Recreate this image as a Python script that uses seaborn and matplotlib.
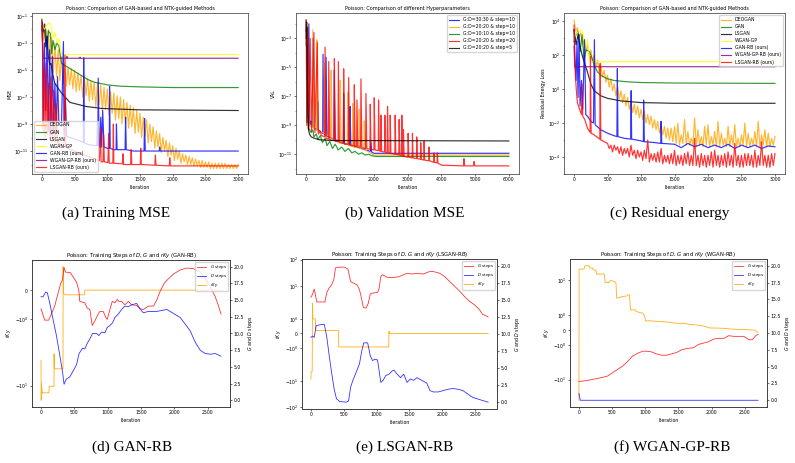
import numpy as np
import matplotlib
matplotlib.use('Agg')
from matplotlib import pyplot as plt
from matplotlib.ticker import FixedLocator, MultipleLocator, NullFormatter, FormatStrFormatter
import seaborn as sns

# ---------------- data ----------------
# top row: values stored as log10 of the loss
grid_3000 = np.arange(0, 3001, 25)

# (a) training MSE
deogan_a = [-1.2, -2.8, -1.6, -3.9, -2.0, -4.6, -2.6, -5.2, -3.0, -5.5,
            -3.5, -5.8, -4.0, -6.0, -4.5, -6.2, -4.8, -6.1, -4.9, -6.4,
            -5.0, -6.6, -5.2, -6.5, -5.4, -7.0, -5.5, -6.9, -5.6, -7.3,
            -5.8, -7.2, -5.9, -7.7, -6.0, -7.6, -6.1, -8.0, -6.3, -7.9,
            -6.4, -8.3, -6.6, -8.2, -6.7, -8.7, -6.9, -8.6, -7.0, -9.0,
            -7.2, -8.9, -7.4, -9.3, -7.6, -9.2, -7.8, -9.7, -8.0, -9.6,
            -8.2, -10.0, -8.5, -9.9, -8.7, -10.4, -9.0, -10.3, -9.2, -10.8,
            -9.5, -10.7, -9.7, -11.1, -10.0, -11.0, -10.2, -11.4, -10.4, -11.3,
            -10.6, -11.7, -10.8, -11.6, -11.0, -11.9, -11.2, -11.8, -11.3, -12.0,
            -11.4, -12.0, -11.5, -12.1, -11.6, -12.1, -11.7, -12.2, -11.7, -12.2,
            -11.8, -12.2, -11.8, -12.3, -11.9, -12.3, -11.9, -12.3, -11.9, -12.3,
            -11.9, -12.3, -11.9, -12.3, -12.0, -12.3, -12.0, -12.3, -12.0, -12.3,
            -12.0]
gan_a_it = [0, 30, 60, 80, 100, 130, 150, 170, 200, 230, 260, 300, 330, 400, 500, 600,
            700, 800, 900, 1000, 1200, 1500, 2000, 3000]
gan_a = [-2.0, -1.9, -2.0, -3.5, -2.1, -2.3, -3.8, -2.8, -3.5, -3.0, -3.2, -4.5, -4.6, -4.8,
         -5.1, -5.4, -5.7, -5.9, -6.0, -6.1, -6.2, -6.25, -6.3, -6.3]
lsgan_a_it = [0, 20, 40, 60, 80, 100, 120, 140, 160, 200, 300, 430, 675, 920, 1500, 3000]
lsgan_a = [-1.3, -2.2, -1.6, -3.3, -2.5, -4.0, -4.6, -4.5, -5.2, -6.0, -6.7, -7.4, -7.7,
           -7.85, -7.95, -8.0]
wgan_a_it = [0, 40, 70, 110, 140, 170, 200, 230, 260, 300, 330, 3000]
wgan_a = [-1.6, -2.0, -1.7, -1.5, -1.7, -2.6, -2.2, -3.0, -2.7, -3.8, -3.85, -3.85]
ganrb_a_it = [0, 10, 20, 40, 60, 80, 100, 120, 140, 160, 180, 200, 220, 240, 260, 300, 330,
              340, 360, 380, 420, 500, 600, 635, 640, 650, 700, 800, 840, 850, 856, 862, 875,
              890, 900, 915, 930, 950, 1000, 1030, 1035, 1045, 1100, 1135, 1140, 1150, 1272,
              1280, 1290, 1400, 1562, 1570, 1580, 1795, 1800, 1810, 3000]
ganrb_a = [-1.8, -1.5, -9.0, -3.0, -8.0, -2.5, -9.5, -3.5, -9.8, -4.0, -9.5, -6.0, -9.7, -5.5,
           -9.0, -9.2, -2.9, -9.8, -7.0, -9.9, -10.0, -10.1, -10.3, -10.35, -4.1, -10.4, -10.5,
           -10.6, -10.6, -9.0, -10.6, -5.6, -10.7, -10.7, -8.5, -10.7, -8.0, -10.7, -10.8,
           -10.8, -6.2, -10.8, -10.9, -10.9, -9.0, -10.9, -10.9, -8.5, -10.9, -11.0, -11.0,
           -8.6, -11.0, -11.0, -10.7, -11.0, -11.0]
wganrb_a_it = [0, 20, 380, 385, 390, 580, 585, 590, 3000]
wganrb_a = [-1.8, -4.13, -4.13, -4.0, -4.13, -4.13, -4.05, -4.13, -4.13]
lsganrb_a_it = [0, 10, 20, 35, 50, 65, 80, 100, 120, 140, 160, 180, 200, 220, 240, 260, 280,
                300, 340, 355, 365, 400, 500, 600, 700, 800, 880, 897, 905, 935, 945, 955,
                1010, 1020, 1030, 1085, 1093, 1100, 1232, 1240, 1250, 1357, 1365, 1375, 1504,
                1512, 1520, 1727, 1735, 1745, 1947, 1955, 1965, 3000]
lsganrb_a = [-1.5, -3.0, -9.5, -5.0, -10.0, -4.5, -9.8, -6.0, -10.2, -5.5, -10.3, -6.5, -10.4,
             -7.5, -10.5, -10.2, -10.6, -10.5, -10.7, -3.9, -10.7, -10.8, -11.0, -11.2, -11.4,
             -11.6, -11.7, -9.3, -11.8, -11.8, -9.8, -11.8, -11.85, -9.7, -11.9, -11.9, -9.0,
             -11.9, -11.95, -11.2, -12.0, -12.0, -10.9, -12.0, -12.0, -10.8, -12.0, -12.05,
             -11.3, -12.05, -12.1, -11.5, -12.1, -12.1]

# (b) validation MSE, hyper-parameters
b_blue_it = [0, 20, 40, 80, 110, 150, 190, 200, 230, 330, 340, 360, 450, 490, 500, 530, 580,
             590, 620, 820, 830, 860, 1000, 1100, 1110, 1135, 1290, 1300, 1325, 1500, 1700,
             1900, 1920, 1940, 2000, 6000]
b_blue = [-2.5, -1.9, -8.5, -2.0, -9.0, -8.7, -9.1, -3.0, -9.2, -9.3, -7.4, -9.3, -9.5, -9.55,
          -4.1, -9.6, -9.7, -4.3, -9.75, -9.95, -5.2, -10.0, -10.1, -10.2, -6.8, -10.25,
          -10.35, -7.7, -10.4, -10.5, -10.65, -10.8, -10.2, -10.85, -10.93, -10.93]
b_orange_it = [0, 30, 60, 100, 190, 200, 230, 310, 320, 345, 530, 540, 565, 730, 740, 765,
               1000, 1010, 1035, 1220, 1230, 1255, 1370, 1380, 1400, 1560, 1570, 1595, 1710,
               1720, 1745, 1900, 2000, 6000]
b_orange = [-3.0, -2.0, -8.5, -9.0, -9.15, -2.4, -9.2, -9.35, -3.1, -9.4, -9.55, -4.7, -9.6,
            -9.85, -5.2, -9.9, -10.15, -5.9, -10.2, -10.35, -6.7, -10.4, -10.45, -7.5, -10.5,
            -10.55, -7.9, -10.6, -10.65, -8.7, -10.7, -10.9, -11.05, -11.05]
b_green_it = [0, 10, 25, 40, 60, 100, 150, 200, 230, 300, 350, 420, 480, 560, 620, 700, 780,
              860, 950, 1050, 1150, 1250, 1350, 1450, 1550, 1650, 1750, 1850, 1950, 2050, 6000]
b_green = [-3.5, -2.0, -8.8, -3.5, -9.2, -9.3, -9.5, -9.3, -9.8, -9.6, -10.0, -9.7, -10.2,
           -9.9, -10.4, -10.1, -10.6, -10.3, -10.7, -10.5, -10.8, -10.6, -10.9, -10.8, -11.0,
           -10.9, -11.05, -11.0, -11.1, -11.15, -11.15]
b_red_it = [0, 20, 50, 80, 120, 160, 230, 260, 330, 360,
            420, 450, 550, 560, 590, 660, 669, 700, 826, 836,
            860, 944, 954, 980, 1101, 1111, 1135, 1249, 1259, 1285,
            1416, 1426, 1450, 1494, 1504, 1530, 1612, 1622, 1650, 1760,
            1770, 1795, 1888, 1898, 1920, 2006, 2016, 2040, 2134, 2144,
            2165, 2202, 2212, 2235, 2320, 2330, 2350, 2399, 2409, 2430,
            2478, 2488, 2510, 2625, 2635, 2655, 2743, 2753, 2775, 2822,
            2832, 2855, 2871, 2881, 2900, 3009, 3019, 3040, 3137, 3147,
            3165, 3264, 3274, 3295, 3382, 3392, 3410, 3481, 3491, 3510,
            3628, 3638, 3655, 3776, 3786, 3800, 3874, 3884, 3900, 4000,
            4660, 4670, 4690, 4960, 4970, 4990, 6000]
b_red = [-1.7, -9.0, -2.3, -9.3, -3.0, -9.4, -2.6, -9.5, -3.3, -9.6,
         -9.4, -9.7, -9.8, -3.6, -9.9, -9.95, -4.6, -10.0, -10.05, -4.4,
         -10.1, -10.15, -4.6, -10.2, -10.25, -5.1, -10.3, -10.3, -5.7, -10.35,
         -10.4, -6.2, -10.45, -10.45, -7.25, -10.5, -10.5, -5.8, -10.55, -10.6,
         -6.8, -10.6, -10.65, -7.55, -10.65, -10.7, -7.1, -10.7, -10.75, -7.25,
         -10.75, -10.8, -8.3, -10.8, -10.85, -8.3, -10.85, -10.9, -7.7, -10.9,
         -10.95, -8.3, -10.95, -11.0, -8.3, -11.0, -11.05, -8.6, -11.05, -11.1,
         -8.3, -11.1, -11.15, -9.3, -11.15, -11.2, -9.55, -11.2, -11.25, -9.55,
         -11.25, -11.3, -9.8, -11.3, -11.35, -10.2, -11.35, -11.4, -10.1, -11.4,
         -11.45, -10.5, -11.45, -11.55, -10.9, -11.55, -11.6, -10.9, -11.6, -11.75,
         -11.8, -11.3, -11.8, -11.8, -11.5, -11.8, -11.8]
b_black_it = [0, 10, 20, 35, 50, 70, 100, 150, 250, 400, 800, 6000]
b_black = [-1.8, -3.0, -2.2, -5.5, -7.5, -9.3, -9.6, -9.8, -9.9, -10.0, -10.05, -10.08]

# (c) residual energy loss
deogan_c = [4.05, 3.4, 3.6, 3.0, 3.3, 2.6, 2.9, 2.2, 2.6, 1.9,
            2.3, 1.6, 2.0, 1.3, 1.7, 1.0, 1.4, 0.7, 1.1, 0.4,
            0.8, 0.1, 0.6, -0.1, 0.3, -0.4, 0.1, -0.6, -0.1, -0.8,
            -0.3, -1.0, -0.5, -1.2, -0.7, -1.4, -0.9, -1.5, -1.0, -1.7,
            -1.2, -1.8, -1.3, -2.0, -1.5, -2.1, -1.6, -2.3, -1.8, -2.4,
            -1.9, -2.6, -2.1, -2.7, -2.2, -2.9, -2.3, -3.0, -2.3, -3.1,
            -2.2, -3.2, -2.0, -3.3, -2.7, -3.2, -1.8, -3.3, -2.5, -3.3,
            -2.9, -3.3, -1.7, -3.4, -2.4, -3.3, -2.8, -3.4, -2.2, -3.3,
            -2.1, -3.4, -2.8, -3.3, -2.5, -3.4, -1.9, -3.4, -2.6, -3.3,
            -2.9, -3.4, -2.2, -3.4, -2.7, -3.3, -2.1, -3.4, -2.9, -3.4,
            -2.7, -3.3, -2.0, -3.4, -2.6, -3.4, -2.9, -3.3, -2.5, -3.4,
            -1.9, -3.4, -2.7, -3.3, -2.4, -3.4, -2.6, -3.4, -2.9, -3.3,
            -2.8]
gan_c_it = [0, 30, 60, 90, 120, 150, 180, 230, 260, 300, 350, 400, 500, 600, 800, 1000, 1500, 3000]
gan_c = [2.8, 3.2, 3.4, 2.2, 3.2, 1.7, 2.3, 2.2, 1.9, 1.4, 1.0, 0.8, 0.6, 0.5, 0.42, 0.38, 0.35, 0.33]
lsgan_c_it = [0, 30, 60, 90, 120, 150, 200, 250, 300, 400, 500, 700, 1000, 1500, 3000]
lsgan_c = [3.5, 2.6, 3.2, 2.5, 2.0, 1.6, 1.0, 0.3, -0.1, -0.4, -0.55, -0.7, -0.8, -0.84, -0.84]
wgan_c_it = [0, 40, 80, 110, 140, 170, 200, 230, 260, 3000]
wgan_c = [3.0, 3.3, 3.4, 3.45, 3.2, 2.4, 2.9, 1.8, 1.6, 1.6]
ganrb_c_it = [0, 15, 30, 45, 60, 75, 90, 110, 130, 157, 175, 200, 250, 290, 304, 315, 400, 500,
              600, 640, 647, 655, 750, 845, 853, 860, 1000, 1035, 1039, 1050, 1200, 1295, 1299,
              1310, 1500, 1600, 1700, 1800, 1900, 2000, 2100, 2200, 2300, 2400, 2500, 2600,
              2700, 2800, 2900, 3000]
ganrb_c = [3.5, 1.5, 0.5, 2.8, -0.5, 3.2, -1.0, 0.5, -1.2, 2.9, -1.5, -1.6, -1.9, -2.0, 2.9,
           -2.1, -2.4, -2.6, -2.75, -2.8, 1.2, -2.8, -2.9, -2.95, -0.1, -2.95, -3.05, -3.1,
           -0.65, -3.1, -3.15, -3.2, -1.9, -3.2, -3.25, -3.45, -3.2, -3.4, -3.25, -3.45, -3.3,
           -3.45, -3.25, -3.5, -3.3, -3.45, -3.3, -3.5, -3.35, -3.4]
wganrb_c_it = [0, 10, 3000]
wganrb_c = [2.5, 1.31, 1.31]
lsganrb_c_it = [0, 10, 20, 34, 50, 83, 110, 120, 130, 160, 200, 240, 245, 255, 300, 385, 390,
                400, 450] + list(range(500, 3001, 25))
lsganrb_c = [3.76, 2.0, 0.8, -0.06, -0.8, -1.2, -1.5, 0.3, -1.6, -1.8, -2.3, -2.55, 1.9, -2.6,
             -2.7, -2.95, 1.5, -3.0, -3.1,
             -3.2, -3.5, -3.3, -3.7, -3.3, -3.6, -3.4, -3.8, -3.4, -3.9,
             -3.5, -3.8, -3.5, -4.0, -3.3, -3.9, -3.6, -4.1, -3.6, -4.0,
             -3.7, -4.2, -3.6, -4.1, -3.0, -4.3, -3.8, -4.2, -3.8, -4.3,
             -3.7, -4.3, -3.5, -4.4, -3.9, -4.3, -3.9, -4.4, -3.8, -4.4,
             -3.6, -4.5, -3.9, -4.4, -3.9, -4.5, -3.8, -4.4, -3.7, -4.5,
             -3.9, -4.5, -2.9, -4.5, -3.9, -4.6, -3.8, -4.5, -3.9, -4.6,
             -3.9, -4.5, -3.7, -4.6, -3.6, -4.5, -3.9, -4.6, -3.9, -4.5,
             -3.8, -4.6, -3.7, -4.5, -3.9, -4.6, -3.2, -4.5, -3.9, -4.6,
             -3.9, -4.6, -3.8, -4.5, -3.8, -4.5, -3.9, -4.6, -3.6, -4.6,
             -3.9, -4.5, -3.1, -4.5, -3.9, -4.6, -3.9, -4.6, -3.8, -4.5,
             -3.8]

# bottom row: steps of G / D (right axis) and rKy (left, symlog)
d_g_it = [0, 55, 115, 155, 205, 255, 296, 321, 346, 366, 441, 532, 567, 582, 657, 692, 733,
          768, 808, 858, 883, 933, 973, 993, 1034, 1069, 1109, 1144, 1169, 1209, 1259, 1310,
          1360, 1435, 1485, 1535, 1610, 1686, 1736, 1786, 1847, 1912, 1987, 2087, 2188, 2288,
          2388, 2464, 2539, 2614, 2660, 2700]
d_g = [13.7, 12.0, 12.0, 12.9, 14.1, 16.0, 17.5, 18.0, 19.9, 19.2, 19.1, 17.7, 16.5, 14.8,
       14.6, 13.8, 13.6, 11.2, 11.9, 12.9, 13.3, 13.3, 12.4, 12.1, 13.6, 14.8, 14.6, 15.1,
       14.8, 14.8, 14.3, 14.8, 14.3, 14.2, 13.7, 13.6, 14.1, 14.1, 15.0, 16.3, 17.5, 18.2,
       18.9, 19.5, 19.8, 19.7, 19.2, 18.2, 17.0, 15.5, 14.2, 12.9]
d_d_it = [0, 30, 70, 95, 130, 181, 231, 281, 321, 346, 381, 432, 482, 532, 572, 622, 657, 692,
          733, 773, 833, 868, 908, 958, 993, 1034, 1074, 1109, 1159, 1209, 1259, 1310, 1360,
          1435, 1485, 1535, 1610, 1736, 1887, 1987, 2087, 2163, 2238, 2313, 2388, 2464, 2539,
          2614, 2700]
d_d = [15.5, 15.5, 16.2, 16.1, 14.6, 12.1, 9.7, 6.8, 4.4, 2.4, 3.2, 3.5, 4.4, 5.3, 7.0, 7.8,
       7.7, 8.5, 9.2, 10.0, 10.0, 9.7, 10.2, 10.1, 10.9, 11.2, 11.6, 12.4, 12.9, 13.6, 14.1,
       14.0, 14.3, 14.5, 13.7, 13.1, 13.3, 13.3, 13.6, 13.0, 12.4, 11.4, 10.4, 8.7, 7.5, 7.0,
       6.9, 7.0, 6.6]
d_rky_it = [0, 3, 8, 15, 20, 25, 120, 121, 195, 196, 200, 330, 332, 340, 365, 655, 657, 2700]
d_rky = [-3.3, -19, -9.0, -12, -14, -13.7, -13.7, -10.3, -10.3, -2.5, -4.8, -4.8, 0.8, -0.12,
         -0.16, -0.16, 0.0, 0.0]

e_g_it = [0, 25, 50, 65, 90, 215, 240, 275, 315, 350, 375, 415, 515, 565, 605, 640, 705, 740,
          765, 800, 840, 875, 905, 940, 1015, 1040, 1065, 1090, 1165, 1265, 1340, 1415, 1465,
          1540, 1615, 1715, 1790, 1840, 1890, 1965, 2040, 2115, 2190, 2265, 2340, 2415, 2490,
          2565, 2615, 2700]
e_g = [15.4, 15.8, 16.6, 16.0, 14.7, 14.7, 16.0, 16.7, 17.2, 18.0, 19.7, 19.8, 19.8, 19.5,
       17.7, 17.5, 17.2, 16.5, 15.5, 13.9, 13.8, 14.5, 15.9, 16.0, 16.1, 16.7, 18.4, 18.7,
       18.3, 18.3, 18.4, 18.7, 18.9, 18.8, 18.9, 18.8, 19.1, 19.2, 19.1, 18.9, 18.4, 17.7,
       17.0, 16.3, 15.5, 14.8, 14.3, 13.6, 12.9, 12.5]
e_d_it = [0, 25, 50, 80, 115, 165, 205, 240, 280, 315, 355, 390, 440, 540, 575, 605, 640, 690,
          740, 775, 805, 865, 905, 940, 975, 1015, 1040, 1065, 1100, 1140, 1190, 1240, 1265,
          1315, 1365, 1415, 1465, 1515, 1565, 1615, 1690, 1765, 1815, 1865, 1940, 2015, 2090,
          2165, 2240, 2315, 2390, 2465, 2565, 2700]
e_d = [9.5, 9.7, 9.5, 11.2, 11.3, 11.4, 11.4, 9.7, 6.8, 4.4, 1.9, 0.5, 0.1, 0.0, 0.2, 2.2, 3.2,
       4.4, 5.6, 7.5, 8.7, 8.7, 6.8, 6.1, 6.3, 6.2, 4.6, 2.9, 3.2, 3.9, 4.1, 4.6, 4.7, 4.1,
       3.6, 4.1, 2.9, 3.4, 3.2, 3.6, 3.2, 2.8, 1.7, 1.5, 1.5, 1.7, 1.9, 2.0, 1.9, 1.7, 1.2,
       0.7, 0.4, 0.0]
e_rky_it = [0, 5, 20, 25, 30, 70, 75, 420, 425, 1185, 1190, 1195, 2700]
e_rky = [-8.3, -4.4, -4.4, 2.2, 1.0, 1.0, 0.2, 0.2, -0.92, -0.92, 0.15, 0.0, 0.0]

f_g_it = [0, 102, 254, 355, 431, 508, 584, 660, 736, 812, 888, 964, 1015, 1091, 1168, 1244,
          1320, 1396, 1472, 1548, 1624, 1726, 1802, 1878, 1954, 2030, 2107, 2183, 2259, 2335,
          2411, 2487, 2563, 2614, 2665, 2700]
f_g = [2.8, 2.9, 3.2, 3.4, 3.6, 4.1, 4.6, 5.1, 5.8, 6.6, 7.0, 7.3, 7.3, 7.2, 6.9, 6.7, 6.7,
       6.9, 7.1, 7.5, 7.7, 7.8, 8.3, 8.5, 8.7, 9.1, 9.2, 9.2, 9.6, 9.5, 9.5, 9.5, 9.0, 9.0,
       9.6, 9.8]
f_d_it = [0, 20, 2700]
f_d = [1.0, 0.0, 0.0]
f_rky_it = [0, 2, 76, 91, 152, 168, 203, 213, 254, 264, 381, 396, 457, 472, 533, 558, 569, 660,
            721, 736, 761, 777, 853, 863, 964, 990, 1005, 1066, 1168, 1269, 1371, 1472, 1574,
            1675, 1777, 1878, 1980, 2081, 2183, 2284, 2386, 2487, 2589, 2640, 2700]
f_rky = [-56, 25.7, 25.7, 34, 34, 27.9, 27.9, 24.3, 23.6, 16.9, 16.9, 8.3, 8.3, 9.9, 9.2, 8.0,
         2.24, 2.57, 2.7, 2.96, 2.96, 1.32, 1.32, 1.21, 1.10, 0.92, 0.59, 0.61, 0.57, 0.55,
         0.50, 0.44, 0.44, 0.37, 0.33, 0.26, 0.13, 0.13, 0.11, 0.066, 0.044, 0.044, 0.0, 0.0,
         -0.15]

method_names = ['DEOGAN', 'GAN', 'LSGAN', 'WGAN-GP', 'GAN-RB (ours)', 'WGAN-GP-RB (ours)',
                'LSGAN-RB (ours)']
method_colors = ['orange', 'green', 'black', 'yellow', 'blue', 'purple', 'red']
hyper_names = ['G:D=30:30 & step=10', 'G:D=20:20 & step=10', 'G:D=10:10 & step=10',
               'G:D=20:20 & step=20', 'G:D=20:20 & step=5']
hyper_colors = ['blue', 'orange', 'green', 'red', 'black']

# ---------------- style ----------------
plt.rcParams.update({
    'font.family': 'DejaVu Sans',
    'font.size': 3.3,
    'axes.titlesize': 3.5,
    'axes.labelsize': 3.4,
    'legend.fontsize': 3.3,
    'axes.linewidth': 0.5,
    'axes.edgecolor': '#333333',
    'axes.titlepad': 2.5,
    'axes.labelpad': 1.5,
    'xtick.major.size': 1.3, 'ytick.major.size': 1.3,
    'xtick.minor.size': 0.7, 'ytick.minor.size': 0.7,
    'xtick.major.width': 0.4, 'ytick.major.width': 0.4,
    'xtick.minor.width': 0.3, 'ytick.minor.width': 0.3,
    'xtick.major.pad': 1.2, 'ytick.major.pad': 1.2,
    'mathtext.fontset': 'dejavusans',
})

fig = plt.figure(figsize=(7.95, 4.63), dpi=100)
W, H = 795.0, 463.0


def box(l, t, r, b):
    # pixel box -> figure rect
    return [l / W, 1 - b / H, (r - l) / W, (b - t) / H]


def draw(ax, it, vals, color, label=None, log=True, lw=0.85, alpha=0.8):
    y = 10.0 ** np.asarray(vals, dtype=float) if log else np.asarray(vals, dtype=float)
    sns.lineplot(x=np.asarray(it, dtype=float), y=y, ax=ax, color=color, linewidth=lw,
                 alpha=alpha, estimator=None, sort=False, legend=False)
    ln = ax.lines[-1]
    if label is not None:
        ln.set_label(label)
    return ln


def log_axis(ax, exps, lo, hi):
    ax.set_yscale('log')
    ax.set_ylim(10.0 ** lo, 10.0 ** hi)
    ax.yaxis.set_major_locator(FixedLocator(10.0 ** np.asarray(exps, dtype=float)))
    ax.yaxis.set_minor_locator(FixedLocator(10.0 ** np.arange(np.floor(lo), np.ceil(hi) + 1)))
    ax.yaxis.set_minor_formatter(NullFormatter())


leg_kw = dict(handlelength=2.2, borderpad=0.4, labelspacing=0.45, framealpha=0.8,
              edgecolor='#cccccc')

# ---------------- (a) ----------------
ax_a = fig.add_axes(box(32, 13, 248, 174))
a_series = [(grid_3000, deogan_a), (gan_a_it, gan_a), (lsgan_a_it, lsgan_a),
            (wgan_a_it, wgan_a), (ganrb_a_it, ganrb_a), (wganrb_a_it, wganrb_a),
            (lsganrb_a_it, lsganrb_a)]
for (it, v), name, col in zip(a_series, method_names, method_colors):
    draw(ax_a, it, v, col, name)
log_axis(ax_a, [-11, -9, -7, -5, -3, -1], -12.7, -0.78)
ax_a.set_xlim(-150, 3150)
ax_a.xaxis.set_major_locator(MultipleLocator(500))
ax_a.set_title('Poisson: Comparison of GAN-based and NTK-guided Methods')
ax_a.set_xlabel('Iteration')
ax_a.set_ylabel('MSE')
ax_a.legend(loc='lower left', **leg_kw)

# ---------------- (b) ----------------
ax_b = fig.add_axes(box(296, 13, 519, 174))
b_series = [(b_blue_it, b_blue), (b_orange_it, b_orange), (b_green_it, b_green),
            (b_red_it, b_red), (b_black_it, b_black)]
for (it, v), name, col in zip(b_series, hyper_names, hyper_colors):
    draw(ax_b, it, v, col, name)
log_axis(ax_b, [-11, -9, -7, -5, -3], -12.36, -1.25)
ax_b.set_xlim(-300, 6300)
ax_b.xaxis.set_major_locator(MultipleLocator(1000))
ax_b.set_title('Poisson: Comparison of different Hyperparameters')
ax_b.set_xlabel('Iteration')
ax_b.set_ylabel('VAL')
ax_b.legend(loc='upper right', **leg_kw)

# ---------------- (c) ----------------
ax_c = fig.add_axes(box(564, 13, 785, 174))
c_series = [(grid_3000, deogan_c), (gan_c_it, gan_c), (lsgan_c_it, lsgan_c),
            (wgan_c_it, wgan_c), (ganrb_c_it, ganrb_c), (wganrb_c_it, wganrb_c),
            (lsganrb_c_it, lsganrb_c)]
for (it, v), name, col in zip(c_series, method_names, method_colors):
    draw(ax_c, it, v, col, name)
log_axis(ax_c, [-4, -2, 0, 2, 4], -5.0, 4.47)
ax_c.set_xlim(-150, 3150)
ax_c.xaxis.set_major_locator(MultipleLocator(500))
ax_c.set_title('Poisson: Comparison of GAN-based and NTK-guided Methods')
ax_c.set_xlabel('Iteration')
ax_c.set_ylabel('Residual Energy Loss')
ax_c.legend(loc='upper right', **leg_kw)

# ---------------- (d)-(f) ----------------
bottom = [
    ((32, 260, 230, 407), 'GAN-RB', d_g_it, d_g, d_d_it, d_d, d_rky_it, d_rky, None),
    ((302, 259, 497, 409), 'LSGAN-RB', e_g_it, e_g, e_d_it, e_d, e_rky_it, e_rky, (-115, 105)),
    ((570, 259, 767, 407), 'WGAN-RB', f_g_it, f_g, f_d_it, f_d, f_rky_it, f_rky, None),
]
for rect, tag, g_it, g, dd_it, dd, r_it, r, ylim in bottom:
    ax = fig.add_axes(box(*rect))
    ax.set_yscale('symlog')  # set first so autoscaling works in symlog space
    ax2 = ax.twinx()
    h_r = draw(ax, r_it, r, 'orange', '$rKy$', log=False, lw=0.6, alpha=0.9)
    ax.relim()
    ax.autoscale_view()
    if ylim is not None:
        ax.set_ylim(*ylim)
    h_g = draw(ax2, g_it, g, 'red', '$G$ steps', log=False, lw=0.6, alpha=0.8)
    h_d = draw(ax2, dd_it, dd, 'blue', '$D$ steps', log=False, lw=0.6, alpha=0.8)
    ax2.set_ylim(-1, 21)
    ax2.yaxis.set_major_locator(MultipleLocator(2.5))
    ax2.yaxis.set_major_formatter(FormatStrFormatter('%.1f'))
    ax2.set_ylabel('$G$ and $D$ steps')
    ax.set_xlim(-135, 2835)
    ax.xaxis.set_major_locator(MultipleLocator(500))
    ax.set_xlabel('Iteration')
    ax.set_ylabel('$rKy$')
    ax.set_title('Poisson: Training Steps of $D$, $G$ and $rKy$ (%s)' % tag, fontsize=3.8)
    ax2.legend([h_g, h_d, h_r], ['$G$ steps', '$D$ steps', '$rKy$'], loc='upper right',
               fontsize=2.9, handlelength=2.4, borderpad=0.35, labelspacing=0.25,
               framealpha=0.8, edgecolor='#cccccc')

# ---------------- captions ----------------
captions = [('(a) Training MSE', 116, 213), ('(b) Validation MSE', 405, 213),
            ('(c) Residual energy', 670, 213), ('(d) GAN-RB', 132, 447),
            ('(e) LSGAN-RB', 405, 447), ('(f) WGAN-GP-RB', 672, 447)]
for txt, cx, cy in captions:
    fig.text(cx / W, 1 - cy / H, txt, ha='center', va='center', fontsize=11,
             family='Liberation Serif')

fig.savefig('out.png', dpi=100)
